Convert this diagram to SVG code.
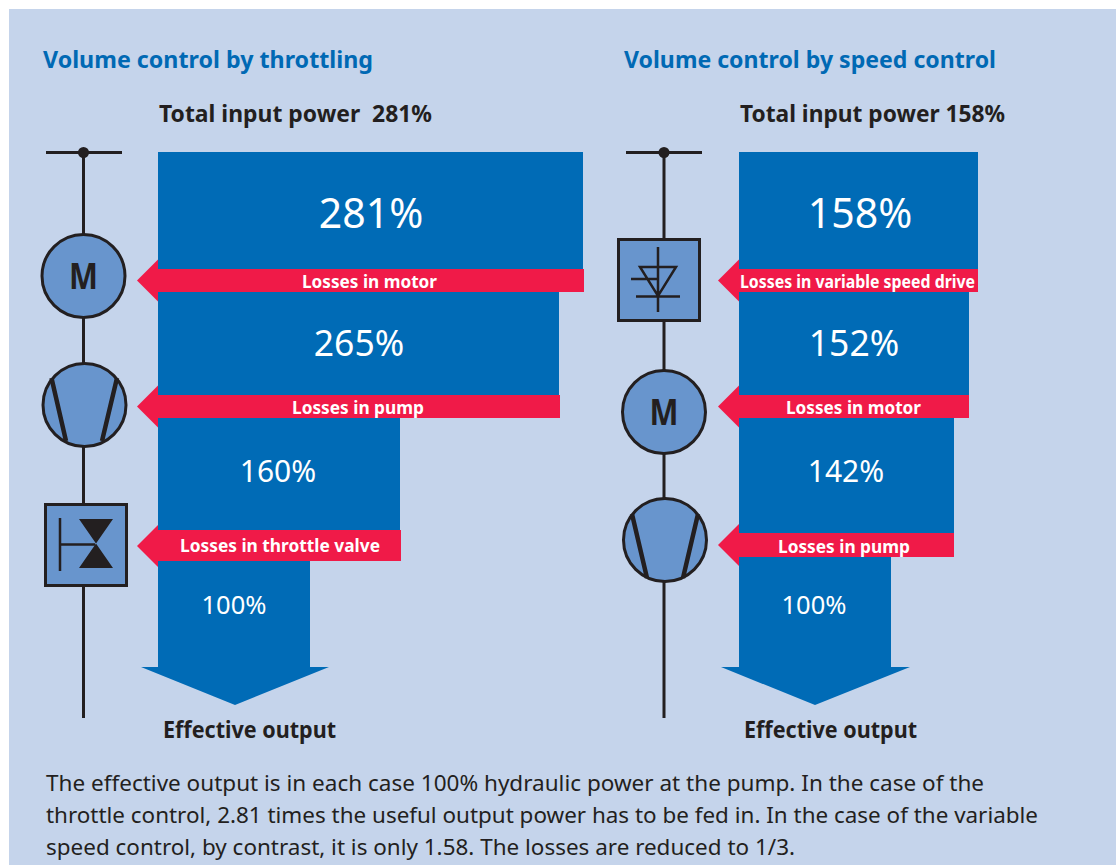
<svg xmlns="http://www.w3.org/2000/svg" width="1116" height="865" viewBox="0 0 1116 865">
<style>
text{font-family:"Noto Sans","Open Sans","Liberation Sans",sans-serif;white-space:pre}
.title{font-size:24px;font-weight:700;fill:#0069b4}
.head{font-size:23px;font-weight:700;fill:#231f20}
.pct{fill:#fff;text-anchor:middle}
.loss{font-size:18px;font-weight:700;fill:#fff}
.body{font-size:22px;fill:#231f20}
.flow{fill:#006bb6}
.red{fill:#f01a48}
.ln{stroke:#231f20;stroke-width:3;fill:none}
.sym{fill:#6895cd;stroke:#231f20;stroke-width:3}
.m{font-size:35px;font-weight:700;fill:#231f20;text-anchor:middle}
</style>
<rect x="9" y="9" width="1107" height="856" fill="#c5d4eb"/>
<text class="title" x="43" y="68" textLength="330" lengthAdjust="spacingAndGlyphs">Volume control by throttling</text>
<text class="title" x="624" y="68" textLength="372" lengthAdjust="spacingAndGlyphs">Volume control by speed control</text>
<text class="head" x="159" y="122" textLength="273" lengthAdjust="spacingAndGlyphs" xml:space="preserve">Total input power  281%</text>
<text class="head" x="740" y="122" textLength="265" lengthAdjust="spacingAndGlyphs">Total input power 158%</text>

<g id="connectors">
<path class="ln" d="M46 152.500H122M83.500 152.500V718"/>
<circle cx="83.500" cy="152.500" r="5.500" fill="#231f20"/>
<path class="ln" d="M626 152.500H702M664 152.500V718"/>
<circle cx="664" cy="152.500" r="5.500" fill="#231f20"/>
</g>

<g id="flow-throttling">
<path class="flow" d="M158 152H583V269H158ZM158 292H559V395H158ZM158 418H400V530H158ZM158 561H310V667H329L235 705L141 667H158Z"/>
<text class="pct" x="371" y="228" font-size="41">281%</text>
<text class="pct" x="359" y="356" font-size="35.500">265%</text>
<text class="pct" x="278" y="482" font-size="30">160%</text>
<text class="pct" x="234" y="614" font-size="25.500">100%</text>
</g>
<g id="loss-motor-1"><path class="red" d="M137 280.500L158 259.500V269H584V292H158V301.500Z"/><text class="loss" x="302" y="288" textLength="135" lengthAdjust="spacingAndGlyphs">Losses in motor</text></g>
<g id="loss-pump-1"><path class="red" d="M137 406.500L158 385.500V395H560V418H158V427.500Z"/><text class="loss" x="292" y="414" textLength="132" lengthAdjust="spacingAndGlyphs">Losses in pump</text></g>
<g id="loss-valve"><path class="red" d="M137 546L158 525V530H401V561H158V567Z"/><text class="loss" x="180" y="552" textLength="200" lengthAdjust="spacingAndGlyphs">Losses in throttle valve</text></g>

<g id="flow-speed">
<path class="flow" d="M739 152H978V269H739ZM739 292H969V395H739ZM739 418H954V533H739ZM739 557H891V667H910L815 705L721 667H739Z"/>
<text class="pct" x="860" y="228" font-size="41">158%</text>
<text class="pct" x="854" y="356" font-size="35.500">152%</text>
<text class="pct" x="846" y="482" font-size="30">142%</text>
<text class="pct" x="814" y="614" font-size="25.500">100%</text>
</g>
<g id="loss-vsd"><path class="red" d="M718 280.500L739 259.500V269H978V292H739V301.500Z"/><text class="loss" x="740" y="288" textLength="235" lengthAdjust="spacingAndGlyphs">Losses in variable speed drive</text></g>
<g id="loss-motor-2"><path class="red" d="M718 406.500L739 385.500V395H969V418H739V427.500Z"/><text class="loss" x="786" y="414" textLength="135" lengthAdjust="spacingAndGlyphs">Losses in motor</text></g>
<g id="loss-pump-2"><path class="red" d="M718 545L739 524V533H954V557H739V566Z"/><text class="loss" x="778" y="553" textLength="132" lengthAdjust="spacingAndGlyphs">Losses in pump</text></g>

<g id="motor-1"><circle class="sym" cx="83.500" cy="276" r="41.500"/><text class="m" x="83.500" y="289" textLength="29" lengthAdjust="spacingAndGlyphs">M</text></g>
<g id="pump-1"><circle class="sym" cx="84.500" cy="405" r="41.500"/><path d="M51.500 378L66 441M117 378L102 441" stroke="#231f20" stroke-width="4.500" fill="none"/></g>
<g id="valve"><rect class="sym" x="45.500" y="504.500" width="81" height="81"/><path d="M60 518V571M60 544.500H95" fill="none" stroke="#231f20" stroke-width="2.500"/><path d="M79 519H113L79 568H113Z" fill="#231f20"/></g>

<g id="vsd"><rect class="sym" x="618.500" y="239.500" width="81" height="81"/><path d="M658 247V312M631 279H658M636 296.500H680M640 267H676L658 296Z" fill="none" stroke="#231f20" stroke-width="2.500"/></g>
<g id="motor-2"><circle class="sym" cx="664" cy="412" r="41.500"/><text class="m" x="664" y="425" textLength="29" lengthAdjust="spacingAndGlyphs">M</text></g>
<g id="pump-2"><circle class="sym" cx="665" cy="540" r="41.500"/><path d="M632 514L647 578M698 514L683 578" stroke="#231f20" stroke-width="4.500" fill="none"/></g>

<text class="head" x="163" y="738" textLength="173" lengthAdjust="spacingAndGlyphs">Effective output</text>
<text class="head" x="744" y="738" textLength="173" lengthAdjust="spacingAndGlyphs">Effective output</text>
<text class="body" x="46" y="791" textLength="938" lengthAdjust="spacingAndGlyphs">The effective output is in each case 100% hydraulic power at the pump. In the case of the</text>
<text class="body" x="46" y="823" textLength="992" lengthAdjust="spacingAndGlyphs">throttle control, 2.81 times the useful output power has to be fed in. In the case of the variable</text>
<text class="body" x="46" y="855" textLength="749" lengthAdjust="spacingAndGlyphs">speed control, by contrast, it is only 1.58. The losses are reduced to 1/3.</text>
</svg>
